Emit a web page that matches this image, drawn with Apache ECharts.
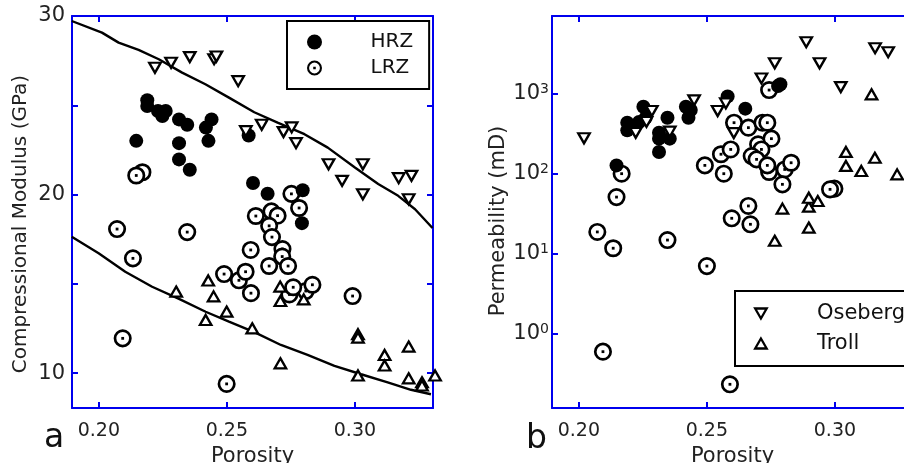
<!DOCTYPE html>
<html>
<head>
<meta charset="utf-8">
<script src="https://cdn.jsdelivr.net/npm/echarts@6/dist/echarts.min.js"></script>
<style>
  html, body { margin: 0; padding: 0; background: #fff; }
  #main { width: 904px; height: 463px; }
</style>
</head>
<body>
<div id="main"></div>
<script>
// tick labels
var xTicks = [0.20, 0.25, 0.30];
var modTicks = [10, 20, 30];
var permTicks = [1, 10, 100, 1000];

// panel a : porosity vs compressional modulus (GPa)
var hrzA = [[0.2189,25.28],[0.2189,24.96],[0.2231,24.68],[0.2261,24.68],[0.2248,24.40],[0.2313,24.21],[0.2345,23.91],[0.2440,24.21],[0.2418,23.75],[0.2146,23.01],[0.2313,22.88],[0.2428,23.01],[0.2313,21.97],[0.2355,21.39],[0.2585,23.31],[0.2602,20.65],[0.2659,20.05],[0.2796,20.24],[0.2793,18.40]];
var lrzA = [[0.2170,21.25],[0.2146,21.07],[0.2071,18.07],[0.2345,17.90],[0.2133,16.43],[0.2093,11.95],[0.2499,9.40],[0.2547,15.20],[0.2489,15.55],[0.2573,15.68],[0.2594,14.48],[0.2593,16.90],[0.2674,19.06],[0.2698,18.82],[0.2613,18.80],[0.2752,20.04],[0.2782,19.25],[0.2665,18.25],[0.2676,17.62],[0.2717,16.95],[0.2716,16.53],[0.2665,16.00],[0.2739,16.00],[0.2744,14.41],[0.2808,14.60],[0.2759,14.81],[0.2834,14.95],[0.2991,14.32]];
var osebergA = [[0.2219,27.10],[0.2282,27.38],[0.2355,27.70],[0.2450,27.58],[0.2459,27.73],[0.2544,26.35],[0.2574,23.55],[0.2636,23.91],[0.2721,23.50],[0.2753,23.76],[0.2770,22.88],[0.2897,21.70],[0.3031,21.70],[0.2950,20.77],[0.3031,20.02],[0.3171,20.92],[0.3221,21.05],[0.3210,19.74]];
var trollA = [[0.2302,14.57],[0.2427,15.19],[0.2448,14.30],[0.2417,12.98],[0.2499,13.45],[0.2599,12.51],[0.2708,14.85],[0.2709,14.04],[0.2800,14.13],[0.2709,10.55],[0.3012,12.18],[0.3012,11.99],[0.3012,9.87],[0.3116,11.02],[0.3116,10.43],[0.3210,11.49],[0.3210,9.71],[0.3262,9.49],[0.3262,9.31],[0.3313,9.87]];
var upperModel = [[0.1894,29.72],[0.2012,29.07],[0.2077,28.51],[0.2155,28.10],[0.2234,27.58],[0.2325,26.83],[0.2416,26.18],[0.2508,25.43],[0.2607,24.61],[0.2698,24.03],[0.2803,23.38],[0.2894,22.63],[0.3000,21.52],[0.3091,20.59],[0.3169,19.93],[0.3235,19.18],[0.3303,18.13]];
var lowerModel = [[0.1894,17.64],[0.1999,16.71],[0.2103,15.68],[0.2208,14.84],[0.2313,14.16],[0.2417,13.44],[0.2508,12.89],[0.2607,12.30],[0.2711,11.58],[0.2815,11.02],[0.2920,10.41],[0.3024,9.94],[0.3128,9.49],[0.3219,9.07],[0.3297,8.82]];

// panel b : porosity vs permeability (mD)
var hrzB = [[0.2147,127],[0.2189,434],[0.2189,348],[0.2215,390],[0.2235,443],[0.2261,501],[0.2252,688],[0.2313,325],[0.2313,274],[0.2313,187],[0.2346,501],[0.2355,274],[0.2418,688],[0.2437,625],[0.2428,501],[0.2581,925],[0.2650,650],[0.2778,1250],[0.2787,1310]];
var lrzB = [[0.2094,0.596],[0.2590,0.233],[0.2072,18.7],[0.2134,11.7],[0.2346,14.8],[0.2500,7.0],[0.2147,51],[0.2167,100],[0.2492,127],[0.2555,175],[0.2566,100],[0.2593,201],[0.2597,27.7],[0.2662,39.5],[0.2670,23.3],[0.2606,434],[0.2662,376],[0.2717,434],[0.2736,434],[0.2700,233],[0.2752,274],[0.2713,201],[0.2675,166],[0.2694,151],[0.2743,105],[0.2736,127],[0.2804,113],[0.2829,137],[0.2795,73.6],[0.2998,65],[0.2981,63.7],[0.2743,1110]];
var osebergB = [[0.2020,277],[0.2222,324],[0.2264,443],[0.2285,607],[0.2355,335],[0.2450,826],[0.2542,607],[0.2574,757],[0.2605,322],[0.2713,1550],[0.2765,2400],[0.2888,4400],[0.2940,2400],[0.3023,1210],[0.3157,3700],[0.3208,3300]];
var trollB = [[0.2765,14.5],[0.2795,36.6],[0.2898,21.2],[0.2898,38.7],[0.2898,50],[0.2933,45.5],[0.3043,125],[0.3043,187],[0.3103,108],[0.3143,982],[0.3156,158],[0.3243,98]];

var FONT = 'DejaVu Sans';
var BLUE = '#0000ee';
var downTri = 'path://M0,0L10,0L5,8.66Z';
var upTri = 'path://M5,0L10,8.66L0,8.66Z';
var ringDot = 'path://M10,0A10,10,0,1,1,-10,0A10,10,0,1,1,10,0ZM7.2,0A7.2,7.2,0,1,0,-7.2,0A7.2,7.2,0,1,0,7.2,0ZM-1.7,-1.7L1.7,-1.7L1.7,1.7L-1.7,1.7Z';

function near(v, list) {
	for (var i = 0; i < list.length; i++) {
		if (Math.abs(v - list[i]) < 1e-6 * Math.max(1, list[i])) return true;
	}
	return false;
}

function frameAxis(extra) {
	var ax = {
		axisLine: { show: true, onZero: false, lineStyle: { color: BLUE, width: 2 } },
		axisTick: { show: true, inside: true, length: 6, lineStyle: { color: BLUE, width: 2 } },
		splitLine: { show: false },
		axisLabel: { show: false }
	};
	for (var k in extra) ax[k] = extra[k];
	return ax;
}

function porosityAxis(grid, bottom) {
	var ax = frameAxis({
		type: 'value', gridIndex: grid, position: bottom ? 'bottom' : 'top',
		min: 0.1895, max: 0.3305, minInterval: 0.05, maxInterval: 0.05
	});
	if (bottom) {
		ax.name = 'Porosity';
		ax.nameLocation = 'middle';
		ax.nameGap = 33;
		ax.nameTextStyle = { fontFamily: FONT, fontSize: 21, color: '#222' };
		ax.axisLabel = {
			show: true, margin: 14, fontFamily: FONT, fontSize: 19, color: '#222',
			formatter: function (v) { return near(v, xTicks) ? v.toFixed(2) : ''; }
		};
	}
	return ax;
}

function ringItem(params, api) {
	var p = api.coord([api.value(0), api.value(1)]);
	return {
		type: 'group',
		children: [
			{ type: 'circle', shape: { cx: p[0], cy: p[1], r: 7.7 }, style: { fill: '#fff', stroke: '#000', lineWidth: 2.7 } },
			{ type: 'rect', shape: { x: p[0] - 1.4, y: p[1] - 1.4, width: 2.8, height: 2.8 }, style: { fill: '#000' } }
		]
	};
}

function dots(name, data, xi, yi) {
	return { name: name, type: 'scatter', xAxisIndex: xi, yAxisIndex: yi, data: data, clip: false,
		symbol: 'circle', symbolSize: 14, itemStyle: { color: '#000', opacity: 1 } };
}
function tris(name, data, xi, yi, down) {
	return { name: name, type: 'scatter', xAxisIndex: xi, yAxisIndex: yi, data: data, clip: false,
		symbol: down ? downTri : upTri, symbolSize: [11.5, 10],
		itemStyle: { color: '#fff', borderColor: '#000', borderWidth: 2.3, opacity: 1 } };
}
function rings(name, data, xi, yi) {
	return { name: name, type: 'custom', xAxisIndex: xi, yAxisIndex: yi, data: data,
		encode: { x: 0, y: 1 }, renderItem: ringItem, itemStyle: { color: '#000' } };
}
function model(data) {
	return { type: 'line', xAxisIndex: 0, yAxisIndex: 0, data: data, showSymbol: false, symbol: 'none',
		lineStyle: { color: '#000', width: 2.4 }, silent: true, z: 1 };
}

var option = {
	animation: false,
	backgroundColor: '#fff',
	title: [
		{ text: 'a', left: 44, top: 422, padding: 0, textStyle: { fontFamily: FONT, fontSize: 33, fontWeight: 'normal', color: '#111' } },
		{ text: 'b', left: 526, top: 423, padding: 0, textStyle: { fontFamily: FONT, fontSize: 33, fontWeight: 'normal', color: '#111' } }
	],
	grid: [
		{ left: 72, top: 16, width: 361, height: 392, outerBoundsMode: 'none' },
		{ left: 552, top: 16, width: 361, height: 392, outerBoundsMode: 'none' }
	],
	legend: [
		{
			orient: 'vertical', left: 287, top: 21, padding: [11, 16, 11, 20],
			itemWidth: 16, itemHeight: 15, itemGap: 6,
			backgroundColor: '#fff', borderColor: '#000', borderWidth: 2,
			textStyle: { fontFamily: FONT, fontSize: 20, color: '#111', lineHeight: 20, padding: [0, 0, 0, 43] },
			data: [
				{ name: 'HRZ', icon: 'path://M0,0A7,7,0,1,1,0,14A7,7,0,1,1,0,0Z', itemStyle: { color: '#000', borderWidth: 0 } },
				{ name: 'LRZ', icon: ringDot, itemStyle: { color: '#000', borderWidth: 0 } }
			]
		},
		{
			orient: 'vertical', left: 735, top: 291, padding: [12, 16, 12, 19],
			itemWidth: 12, itemHeight: 10, itemGap: 9,
			backgroundColor: '#fff', borderColor: '#000', borderWidth: 2,
			textStyle: { fontFamily: FONT, fontSize: 21, color: '#111', lineHeight: 20, padding: [0, 0, 0, 45] },
			data: [
				{ name: 'Oseberg', icon: downTri, itemStyle: { color: '#fff', borderColor: '#000', borderWidth: 2.3 } },
				{ name: 'Troll', icon: upTri, itemStyle: { color: '#fff', borderColor: '#000', borderWidth: 2.3 } }
			]
		}
	],
	xAxis: [
		porosityAxis(0, true),
		porosityAxis(0, false),
		porosityAxis(1, true),
		porosityAxis(1, false)
	],
	yAxis: [
		frameAxis({
			type: 'value', gridIndex: 0, position: 'left', min: 8.05, max: 30, minInterval: 5, maxInterval: 5,
			name: 'Compressional Modulus (GPa)', nameLocation: 'middle', nameGap: 41,
			nameTextStyle: { fontFamily: FONT, fontSize: 20, color: '#222', padding: [0, 24, 0, 0] },
			axisLabel: { show: true, margin: 7, fontFamily: FONT, fontSize: 21, color: '#222',
				formatter: function (v) { return near(v, modTicks) ? String(v) : ''; } }
		}),
		frameAxis({ type: 'value', gridIndex: 0, position: 'right', min: 8.05, max: 30, minInterval: 5, maxInterval: 5 }),
		frameAxis({
			type: 'log', logBase: 10, gridIndex: 1, position: 'left', min: 0.1178, max: 9354,
			name: 'Permeability (mD)', nameLocation: 'middle', nameGap: 40,
			nameTextStyle: { fontFamily: FONT, fontSize: 21, color: '#222', padding: [0, 18, 0, 0] },
			axisLabel: { show: true, margin: 3, fontFamily: FONT, fontSize: 20, color: '#222',
				formatter: function (v) {
					if (!near(v, permTicks)) return '';
					return '{b|10}{e|' + Math.round(Math.log(v) / Math.LN10) + '}';
				},
				rich: {
					b: { fontFamily: FONT, fontSize: 21, color: '#222', lineHeight: 22 },
					e: { fontFamily: FONT, fontSize: 14, color: '#222', verticalAlign: 'top', lineHeight: 22, padding: [0, 0, 10, 0] }
				}
			}
		}),
		frameAxis({ type: 'log', logBase: 10, gridIndex: 1, position: 'right', min: 0.1178, max: 9354 })
	],
	series: [
		model(upperModel),
		model(lowerModel),
		dots('HRZ', hrzA, 0, 0),
		tris('Oseberg', osebergA, 0, 0, true),
		tris('Troll', trollA, 0, 0, false),
		rings('LRZ', lrzA, 0, 0),
		dots('HRZ', hrzB, 2, 2),
		tris('Oseberg', osebergB, 2, 2, true),
		tris('Troll', trollB, 2, 2, false),
		rings('LRZ', lrzB, 2, 2)
	]
};

var chart = echarts.init(document.getElementById('main'));
chart.setOption(option);
</script>
</body>
</html>
